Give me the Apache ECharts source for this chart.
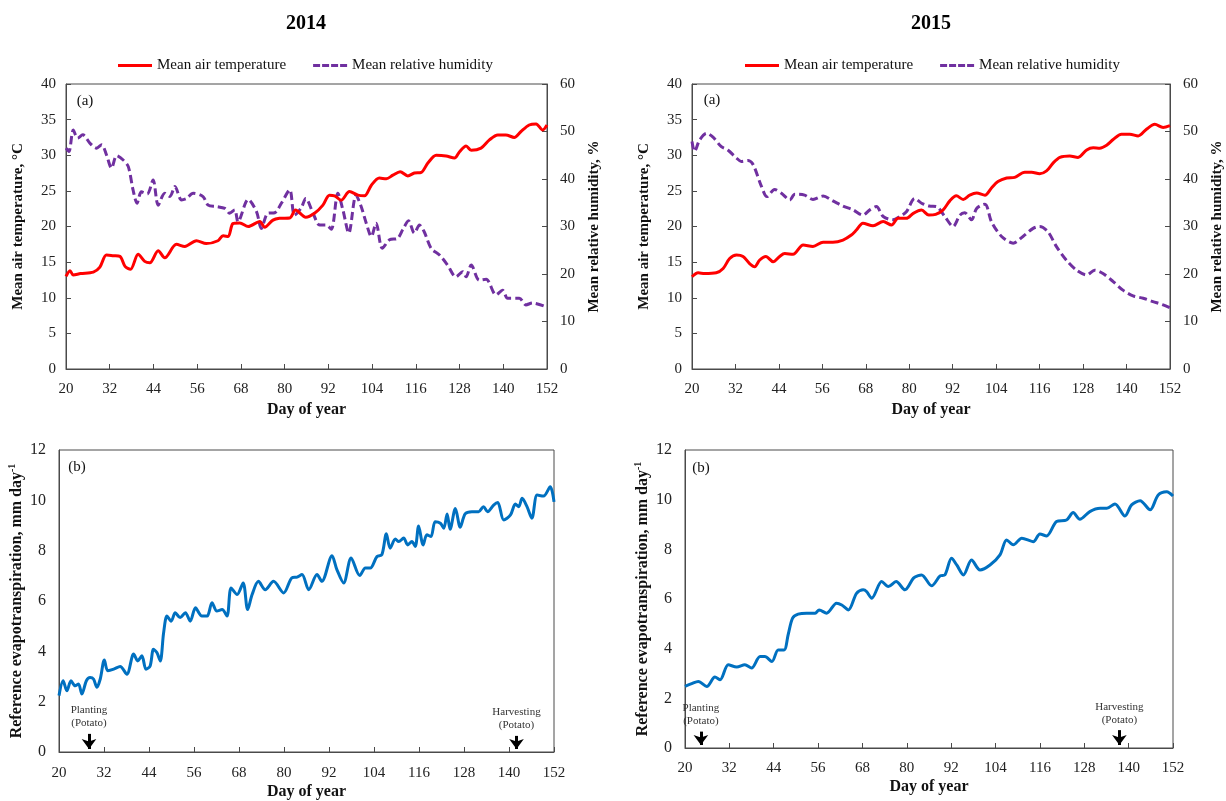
<!DOCTYPE html>
<html>
<head>
<meta charset="utf-8">
<script src="https://cdn.jsdelivr.net/npm/echarts@6/dist/echarts.min.js"></script>
<style>
html,body{margin:0;padding:0;background:#fff;}
#chart{width:1226px;height:801px;}
</style>
</head>
<body>
<div id="chart"></div>
<script>
// ---------- DATA ----------
const years = ['2014', '2015'];
const legendNames = ['Mean air temperature', 'Mean relative humidity'];
const xTicks = [20, 32, 44, 56, 68, 80, 92, 104, 116, 128, 140, 152];

// 2014 mean air temperature (°C)
const temp2014Days = [20,21.1,22,24,27.5,29.3,31.1,33,34.8,36.2,37.7,39.8,41.6,43,45.3,47.1,50.3,52.6,55.8,58.5,61.7,63.1,64.5,65.8,67.7,70,73.2,74.5,76.8,78.6,81.4,83,85.8,88.2,90.5,92.3,93.7,95.5,97.8,100.1,101.9,103.8,106,107.9,109.7,111.7,113.8,115.6,117.5,119.3,121.6,124.3,126.6,128,129.8,131.2,133.9,136.2,138.5,140.7,143,144.8,147.1,149,150.8,152];
const temp2014Vals = [13.0,13.8,13.2,13.4,13.6,14.3,16.0,15.9,15.8,14.4,14.0,16.1,15.1,14.9,16.6,15.6,17.5,17.2,18.0,17.6,18.0,18.7,18.6,20.4,20.5,20.0,20.7,19.9,20.9,21.15,21.2,22.3,21.3,21.85,23.0,24.4,24.3,23.7,24.9,24.4,24.3,25.8,26.8,26.7,27.2,27.7,27.1,27.5,27.6,28.9,30.0,29.9,29.6,30.5,31.3,30.7,31.0,32.15,32.85,32.85,32.5,33.3,34.25,34.4,33.55,34.25];

// 2014 mean relative humidity (%)
const rh2014Days = [20,20.8,22,23.2,24.6,26.6,28.4,29.8,31.1,32.5,33.9,35.7,37.1,38.4,39.5,40.7,42.3,43.9,45.3,47.1,48.5,49.9,51.7,53.1,54.9,57.6,59,61.3,63.6,64.9,66.3,67.2,70,72.3,73.6,75.4,77.3,79.1,81.4,82.7,84.6,85.8,87.8,89.6,91.4,92.8,94.6,96,97.6,99.6,101,102.4,103.8,105.1,106.8,108.8,111,112.4,114,115.6,117,118.3,120.2,122.5,124.7,127,128.9,129.8,131.2,133.4,135.3,138,139.8,141.2,144.4,146.2,148,152];
const rh2014Vals = [46.5,45.8,50.3,48.6,49.3,47.5,46.5,47.2,45.1,42.3,44.9,44.0,42.6,37.7,34.9,37.3,36.85,39.8,34.5,37.0,36.3,38.4,35.6,35.9,37.0,36.3,34.5,34.2,33.8,32.8,33.5,31.0,35.7,33.1,29.6,32.8,32.9,34.9,37.7,32.4,34.0,35.9,32.8,30.3,30.3,29.4,37.0,33.5,28.6,36.6,34.2,30.7,27.9,30.7,25.4,27.2,27.5,29.3,31.2,28.6,30.3,28.9,25.4,24.0,21.9,19.4,20.5,19.4,21.9,18.7,18.9,15.6,16.6,14.9,14.9,13.5,13.9,13.0];

// 2015 mean air temperature (°C)
const temp2015Days = [20,21.7,23.5,26.7,28.6,30.4,32.3,34.1,35.9,37.3,38.7,40.4,42.4,44.2,45.6,47.9,50.7,53.4,56.2,58.9,61.7,64,65.4,67.2,70,72.8,75.1,76.9,79.2,81.1,83.4,85.4,87.3,89.3,91.2,93,94.9,96.7,98.6,100.9,102.7,104.5,106.9,109.1,111.9,113.8,116,117.9,119.7,121.6,124.3,126.6,129,130.8,132.6,134.5,136.3,138.6,140.9,143.2,145.5,147.8,150.1,152];
const temp2015Vals = [12.95,13.5,13.4,13.5,14.1,15.5,16.0,15.8,14.8,14.35,15.3,15.8,15.05,15.8,16.2,16.1,17.4,17.2,17.8,17.8,18.1,18.8,19.5,20.45,20.1,20.7,20.2,21.15,21.15,21.85,22.3,21.6,21.7,22.3,23.6,24.3,23.8,24.4,24.7,24.4,25.4,26.3,26.8,26.9,27.6,27.6,27.4,27.8,28.9,29.7,29.9,29.7,30.75,31.05,31.0,31.4,32.2,32.95,32.95,32.7,33.65,34.35,33.9,34.15];

// 2015 mean relative humidity (%)
const rh2015Days = [20,20.7,22.1,24,25.8,28.1,29.9,32.3,33.6,35.5,36.9,39.2,40.7,42.8,44.7,47,48.4,51.1,53.4,56.2,58.9,61.7,64.5,67.2,69.1,70.9,72.8,75.5,77.4,79.2,81.5,83.4,85.5,87.5,89.8,92.1,94,95.3,97.2,98.6,100.9,102.7,105.5,108.7,111.4,114.2,116,118.3,120.7,123.4,126.2,129,131.2,133.5,136.3,139,141.8,144.6,147.3,150.1,152];
const rh2015Vals = [47.9,45.8,48.2,49.6,48.8,46.8,46.1,44.4,43.7,43.9,43.0,38.4,36.3,37.8,37.0,35.6,36.8,36.6,35.7,36.4,35.4,34.3,33.5,32.4,33.5,34.2,32.1,31.4,32.1,33.1,35.9,34.9,34.3,34.2,32.1,30.0,32.4,32.9,31.4,33.8,34.7,31.0,27.9,26.5,27.9,29.6,30.0,28.9,25.7,22.9,20.8,19.8,20.8,20.1,18.4,16.6,15.4,14.9,14.2,13.5,12.9];

// 2014 reference evapotranspiration (mm/day)
const et2014Days = [20,21.1,22.1,23.2,24.3,25.2,26.1,27.3,28.3,29.2,30.1,31,32.1,33,34.6,36.3,38.1,39.9,41,42.1,43.2,44.3,45.2,46.1,47,47.9,48.8,49.9,51,52.3,53.7,55,56.4,58.1,59.5,60.8,62.1,63.5,64.8,65.9,67.5,69.1,70.3,71.5,73.2,75,77.2,79.9,82.1,83.5,84.8,86.6,88.8,90.1,92.8,94.1,95.9,97.9,100.2,101.7,103,104.8,106.1,107.3,108.3,109.7,110.6,111.9,113,114.1,115,115.9,117.1,118.1,119.2,120.3,121.7,122.6,123.5,124.3,125.7,127,128.3,130.1,131.9,133.2,134.3,135.9,137,138.6,140.4,141.7,142.6,143.5,144.8,146.1,147.5,149.2,151,152];
const et2014Vals = [2.24,2.83,2.43,2.83,2.63,2.70,2.30,2.83,2.96,2.90,2.57,2.90,3.66,3.23,3.29,3.40,3.09,3.89,3.62,3.82,3.29,3.42,4.08,3.95,3.62,4.74,5.40,5.20,5.53,5.34,5.53,5.20,5.73,5.40,5.40,5.93,5.60,5.66,5.40,6.52,6.26,6.72,5.66,6.26,6.78,6.45,6.78,6.32,6.92,6.95,7.05,6.45,7.05,6.78,7.80,7.25,6.72,7.71,7.01,7.31,7.31,7.77,7.84,8.67,8.10,8.46,8.36,8.50,8.23,8.36,8.17,8.98,8.23,8.63,8.56,9.15,9.09,8.89,9.46,8.85,9.68,8.93,9.46,9.55,9.55,9.75,9.55,9.81,9.91,9.22,9.42,9.85,9.75,10.08,9.75,9.29,10.21,10.17,10.54,9.94];

// 2015 reference evapotranspiration (mm/day)
const et2015Days = [20,21.8,23.6,25.9,28.1,29.5,31.7,34,36.2,38,40.3,41.6,43.5,45.2,46.8,47.9,49.1,50.6,52.9,55.2,56.3,58.3,61,62.4,64.2,66.4,68.2,69.1,70.5,73.2,75,77.1,79.5,81.8,83.1,84,86.7,89,90.3,92.1,93.5,95.3,97.5,99.8,102.5,105.2,107,108.8,111.1,114.2,116,117.8,120.5,123.2,125,126.8,129.5,132.3,134.1,136.3,139,140.8,143.1,145.8,148,150.3,152];
const et2015Vals = [2.48,2.59,2.68,2.48,2.86,2.75,3.35,3.26,3.35,3.22,3.68,3.68,3.48,3.95,3.95,4.56,5.23,5.39,5.43,5.43,5.56,5.43,5.83,5.76,5.56,6.23,6.37,6.30,6.03,6.70,6.50,6.70,6.37,6.84,6.94,6.97,6.53,6.93,6.97,7.64,7.37,6.97,7.57,7.17,7.37,7.78,8.38,8.18,8.45,8.31,8.62,8.54,9.12,9.18,9.48,9.21,9.52,9.65,9.65,9.83,9.34,9.79,9.96,9.59,10.19,10.32,10.15];

// crop events (day of year)
const plantingDay2014 = 28, harvestDay2014 = 142;
const plantingDay2015 = 24.3, harvestDay2015 = 137.5;

// ---------- CHART ----------
const F = '"Liberation Serif", "Times New Roman", serif';
const TXT = '#111';
const AX = '#4a4a4a';
const pairs = (d, v) => d.map((x, i) => [x, v[i]]);

const grids = [
  {left: 66, top: 84, width: 481, height: 285},
  {left: 692, top: 84, width: 478, height: 285},
  {left: 59, top: 450, width: 495, height: 303},
  {left: 685, top: 450, width: 488, height: 298}
].map(g => Object.assign({show: true, borderColor: AX, borderWidth: 1, containLabel: false, backgroundColor: 'transparent'}, g));

function xAx(gi, margin, gap) {
  return {
    type: 'value', gridIndex: gi, min: 20, max: 152, interval: 12,
    name: 'Day of year', nameLocation: 'middle', nameGap: gap,
    nameTextStyle: {fontFamily: F, fontWeight: 'bold', fontSize: 16, color: TXT},
    axisLine: {show: true, onZero: false, lineStyle: {color: AX, width: 1}},
    axisTick: {show: true, inside: true, length: 5, lineStyle: {color: AX}},
    axisLabel: {fontFamily: F, fontSize: 15, color: '#222', margin: margin,
      customValues: xTicks, showMinLabel: true, showMaxLabel: true},
    splitLine: {show: false}
  };
}
function yAx(gi, opts) {
  return Object.assign({
    type: 'value', gridIndex: gi,
    nameLocation: 'middle', nameRotate: 90,
    nameTextStyle: {fontFamily: F, fontWeight: 'bold', fontSize: 15, color: TXT},
    axisLine: {show: true, lineStyle: {color: AX, width: 1}},
    axisTick: {show: true, inside: true, length: 5, lineStyle: {color: AX}},
    axisLabel: {fontFamily: F, fontSize: 15, color: '#222', margin: 10},
    splitLine: {show: false}
  }, opts);
}

const etName = '{a|Reference evapotranspiration, mm day}{s|-1}';
const etNameStyle = {
  fontFamily: F, fontWeight: 'bold', fontSize: 16, color: TXT,
  rich: {
    a: {fontFamily: F, fontWeight: 'bold', fontSize: 16, color: TXT, lineHeight: 20},
    s: {fontFamily: F, fontWeight: 'bold', fontSize: 10, color: TXT, verticalAlign: 'top', lineHeight: 12}
  }
};

function arrowMark(days) {
  return {
    silent: true, animation: false,
    symbol: ['none', 'arrow'], symbolSize: [11, 10],
    lineStyle: {color: '#000', width: 3, type: 'solid'},
    label: {show: true, position: 'start', distance: 4, fontFamily: F, fontSize: 11,
      color: '#333', lineHeight: 13},
    data: days.map(o => [
      {coord: [o.day, o.top], label: {formatter: o.text}},
      {coord: [o.day, o.bot]}
    ])
  };
}

const tempStyle = {color: '#FF0000', width: 3};
const rhStyle = {color: '#7030A0', width: 3, type: [8, 4]};
const etStyle = {color: '#0070C0', width: 3};

const solidIcon = 'path://M0,0h34v3h-34z';
const dashIcon = 'path://M0,0h7v3h-7z M9,0h7v3h-7z M18,0h7v3h-7z M27,0h7v3h-7z';
const legendData = [{name: legendNames[0], icon: solidIcon}, {name: legendNames[1], icon: dashIcon}];

function legendAt(left) {
  return {left: left, top: 53, itemWidth: 34, itemHeight: 3, itemGap: 27,
    data: legendData, textStyle: {fontFamily: F, fontSize: 15, color: TXT, padding: [0, 0, 0, 0]}};
}

const option = {
  animation: false,
  backgroundColor: '#fff',
  grid: grids,
  legend: [legendAt(113), legendAt(740)],
  xAxis: [xAx(0, 13, 33), xAx(1, 13, 33), xAx(2, 14, 32), xAx(3, 13, 31)],
  yAxis: [
    yAx(0, {min: 0, max: 40, interval: 5, name: 'Mean air temperature, °C', nameGap: 40}),
    yAx(0, {min: 0, max: 60, interval: 10, position: 'right', name: 'Mean relative humidity, %', nameGap: 40,
      axisLabel: {fontFamily: F, fontSize: 15, color: '#222', margin: 13}}),
    yAx(1, {min: 0, max: 40, interval: 5, name: 'Mean air temperature, °C', nameGap: 40}),
    yAx(1, {min: 0, max: 60, interval: 10, position: 'right', name: 'Mean relative humidity, %', nameGap: 40,
      axisLabel: {fontFamily: F, fontSize: 15, color: '#222', margin: 13}}),
    yAx(2, {min: 0, max: 12, interval: 2, name: etName, nameGap: 32, nameTextStyle: etNameStyle,
      axisTick: {show: false}, axisLabel: {fontFamily: F, fontSize: 16, color: '#222', margin: 13}}),
    yAx(3, {min: 0, max: 12, interval: 2, name: etName, nameGap: 32, nameTextStyle: etNameStyle,
      axisTick: {show: false}, axisLabel: {fontFamily: F, fontSize: 16, color: '#222', margin: 13}})
  ],
  series: [
    {name: legendNames[0], type: 'line', xAxisIndex: 0, yAxisIndex: 0, data: pairs(temp2014Days, temp2014Vals),
     symbol: 'none', smooth: 0.3, lineStyle: tempStyle, itemStyle: {color: tempStyle.color}, z: 3},
    {name: legendNames[1], type: 'line', xAxisIndex: 0, yAxisIndex: 1, data: pairs(rh2014Days, rh2014Vals),
     symbol: 'none', smooth: 0.3, lineStyle: rhStyle, itemStyle: {color: rhStyle.color}, z: 2},
    {name: legendNames[0], type: 'line', xAxisIndex: 1, yAxisIndex: 2, data: pairs(temp2015Days, temp2015Vals),
     symbol: 'none', smooth: 0.3, lineStyle: tempStyle, itemStyle: {color: tempStyle.color}, z: 3},
    {name: legendNames[1], type: 'line', xAxisIndex: 1, yAxisIndex: 3, data: pairs(rh2015Days, rh2015Vals),
     symbol: 'none', smooth: 0.3, lineStyle: rhStyle, itemStyle: {color: rhStyle.color}, z: 2},
    {name: 'ET0 2014', type: 'line', xAxisIndex: 2, yAxisIndex: 4, data: pairs(et2014Days, et2014Vals),
     symbol: 'none', smooth: 0.3, lineStyle: etStyle, itemStyle: {color: etStyle.color},
     markLine: arrowMark([
       {day: plantingDay2014, top: 0.72, bot: 0.12, text: 'Planting\n(Potato)'},
       {day: harvestDay2014, top: 0.64, bot: 0.12, text: 'Harvesting\n(Potato)'}
     ])},
    {name: 'ET0 2015', type: 'line', xAxisIndex: 3, yAxisIndex: 5, data: pairs(et2015Days, et2015Vals),
     symbol: 'none', smooth: 0.3, lineStyle: etStyle, itemStyle: {color: etStyle.color},
     markLine: arrowMark([
       {day: plantingDay2015, top: 0.66, bot: 0.12, text: 'Planting\n(Potato)'},
       {day: harvestDay2015, top: 0.72, bot: 0.12, text: 'Harvesting\n(Potato)'}
     ])}
  ],
  graphic: [
    {type: 'text', x: 306, y: 24, style: {text: years[0], font: 'bold 20px ' + F, fill: '#000', align: 'center', verticalAlign: 'middle'}},
    {type: 'text', x: 931, y: 24, style: {text: years[1], font: 'bold 20px ' + F, fill: '#000', align: 'center', verticalAlign: 'middle'}},
    {type: 'text', x: 85, y: 101, style: {text: '(a)', font: '15px ' + F, fill: '#111', align: 'center', verticalAlign: 'middle'}},
    {type: 'text', x: 712, y: 100, style: {text: '(a)', font: '15px ' + F, fill: '#111', align: 'center', verticalAlign: 'middle'}},
    {type: 'text', x: 77, y: 467, style: {text: '(b)', font: '15px ' + F, fill: '#111', align: 'center', verticalAlign: 'middle'}},
    {type: 'text', x: 701, y: 468, style: {text: '(b)', font: '15px ' + F, fill: '#111', align: 'center', verticalAlign: 'middle'}}
  ]
};

const chart = echarts.init(document.getElementById('chart'), null, {renderer: 'canvas'});
chart.setOption(option);
</script>
</body>
</html>
